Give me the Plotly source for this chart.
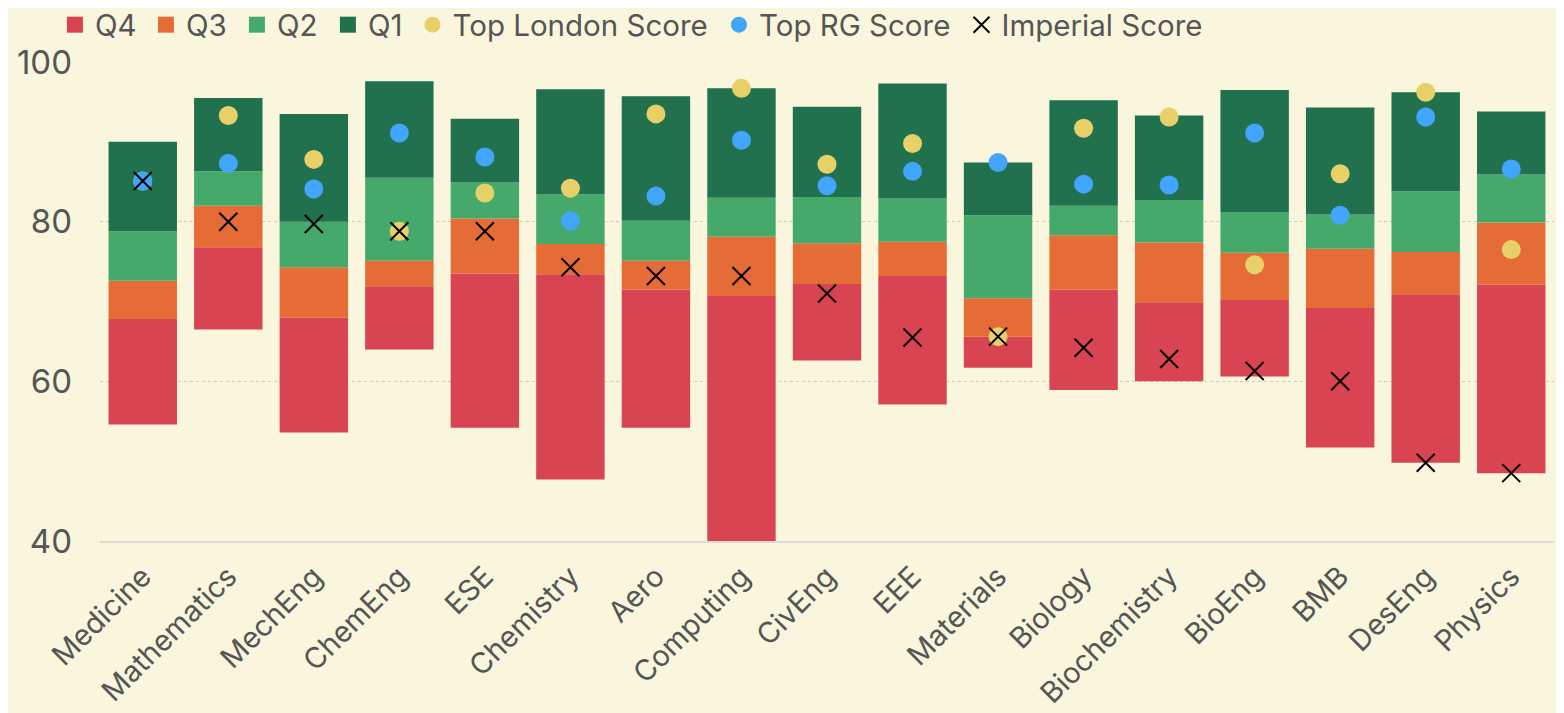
import plotly.graph_objects as go

departments = ["Medicine", "Mathematics", "MechEng", "ChemEng", "ESE", "Chemistry", "Aero",
               "Computing", "CivEng", "EEE", "Materials", "Biology", "Biochemistry", "BioEng",
               "BMB", "DesEng", "Physics"]

# quartile boundaries (bottom of Q4 .. top of Q1)
minimum = [54.6, 66.5, 53.6, 64.0, 54.2, 47.7, 54.2, 40.0, 62.6, 57.1, 61.7, 58.9, 60.0, 60.6, 51.7, 49.8, 48.5]
q4_top = [67.8, 76.8, 68.0, 71.9, 73.5, 73.4, 71.5, 70.7, 72.2, 73.2, 65.6, 71.5, 69.9, 70.2, 69.2, 70.8, 72.1]
q3_top = [72.6, 82.0, 74.3, 75.1, 80.4, 77.2, 75.1, 78.1, 77.3, 77.5, 70.4, 78.3, 77.4, 76.1, 76.6, 76.2, 79.9]
q2_top = [78.8, 86.3, 80.0, 85.5, 84.9, 83.4, 80.1, 83.0, 83.1, 82.9, 80.8, 82.0, 82.7, 81.2, 80.9, 83.8, 85.9]
maximum = [90.0, 95.5, 93.5, 97.6, 92.9, 96.6, 95.7, 96.7, 94.4, 97.3, 87.4, 95.2, 93.3, 96.5, 94.3, 96.2, 93.8]

top_london = [85.1, 93.3, 87.8, 78.8, 83.6, 84.2, 93.5, 96.7, 87.2, 89.8, 65.6, 91.7, 93.1, 74.6, 86.0, 96.2, 76.5]
top_rg = [85.1, 87.3, 84.1, 91.1, 88.1, 80.1, 83.2, 90.2, 84.5, 86.3, 87.4, 84.7, 84.6, 91.1, 80.8, 93.1, 86.6]
imperial = [85.1, 80.0, 79.7, 78.8, 78.8, 74.3, 73.2, 73.2, 71.0, 65.5, 65.6, 64.2, 62.8, 61.3, 60.0, 49.8, 48.5]

C_Q4 = "#D84452"
C_Q3 = "#E56B37"
C_Q2 = "#46A96C"
C_Q1 = "#21714F"
C_LON = "#E8D068"
C_RG = "#42A5FF"
BG = "#FAF6DD"
TXT = "#555555"
FONT = "Inter"

fig = go.Figure()

segments = [
    ("Q4", minimum, q4_top, C_Q4),
    ("Q3", q4_top, q3_top, C_Q3),
    ("Q2", q3_top, q2_top, C_Q2),
    ("Q1", q2_top, maximum, C_Q1),
]

for name, lo, hi, col in segments:
    fig.add_trace(go.Bar(
        x=departments,
        base=lo,
        y=[h - l for l, h in zip(lo, hi)],
        marker=dict(color=col, line=dict(width=0)),
        name=name,
        showlegend=False,
    ))

# legend-only entries for the bar segments (square swatches)
for name, lo, hi, col in segments:
    fig.add_trace(go.Scatter(
        x=[None], y=[None], mode="markers", name=name, legend="legend",
        marker=dict(symbol="square", size=18, color=col),
    ))

fig.add_trace(go.Scatter(
    x=departments, y=top_london, mode="markers", name="Top London Score", legend="legend2",
    marker=dict(symbol="circle", size=19, color=C_LON),
))
fig.add_trace(go.Scatter(
    x=departments, y=top_rg, mode="markers", name="Top RG Score", legend="legend3",
    marker=dict(symbol="circle", size=19, color=C_RG),
))
fig.add_trace(go.Scatter(
    x=departments, y=imperial, mode="markers", name="Imperial Score", legend="legend4",
    marker=dict(symbol="x-thin", size=18, line=dict(width=2, color="#000000"), color="#000000"),
))

LEG_Y = 1.1315
leg_common = dict(
    orientation="h",
    xref="paper", yref="paper",
    xanchor="left", yanchor="top", y=LEG_Y,
    font=dict(family=FONT, size=29.5, color=TXT),
    bgcolor="rgba(0,0,0,0)",
    itemclick=False,
)

fig.update_layout(
    width=1564, height=713,
    paper_bgcolor=BG, plot_bgcolor=BG,
    font=dict(family=FONT, size=29, color=TXT),
    margin=dict(l=92, r=18, t=54, b=180, autoexpand=False),
    barmode="overlay",
    bargap=0.2,
    showlegend=True,
    legend=dict(leg_common, x=-0.031, entrywidth=46),
    legend2=dict(leg_common, x=0.2149),
    legend3=dict(leg_common, x=0.4257),
    legend4=dict(leg_common, x=0.5925),
)

fig.update_yaxes(
    range=[40, 100],
    tickvals=[40, 60, 80, 100],
    showgrid=True, gridcolor="#CFCBB8", griddash="dot", gridwidth=1,
    zeroline=False, showline=False, automargin=False,
    ticks="", ticklabelstandoff=27,
    tickfont=dict(family=FONT, size=33, color=TXT),
)
fig.update_xaxes(
    range=[-0.5, len(departments) - 0.5],
    tickangle=-45,
    showgrid=False, zeroline=False, automargin=False,
    showline=True, linecolor="#DCDAD0", linewidth=2,
    ticks="", ticklabelstandoff=5,
    tickfont=dict(family=FONT, size=29, color=TXT),
)

fig.write_html("out.html")
